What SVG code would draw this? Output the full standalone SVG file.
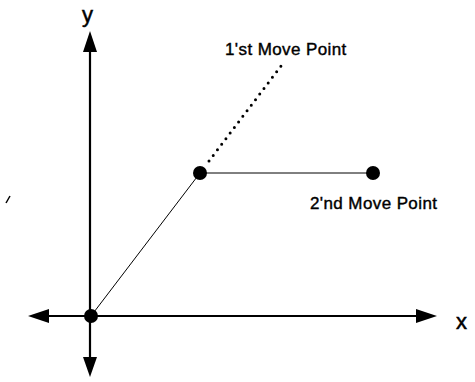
<svg xmlns="http://www.w3.org/2000/svg" width="475" height="382" viewBox="0 0 475 382">
<style>
.axis{stroke:#000;stroke-width:2.2;fill:none}
.thin{stroke:#000;stroke-width:1;fill:none}
.dot{stroke:#000;stroke-width:3;stroke-linecap:round;stroke-dasharray:0 7;fill:none}
.lbl{font-family:"Liberation Sans",Arial,sans-serif;font-size:17px;letter-spacing:0.4px;fill:#000;stroke:#000;stroke-width:0.4}
.ax{font-family:"Liberation Sans",Arial,sans-serif;font-size:22px;fill:#000;stroke:#000;stroke-width:0.5}
.pt{fill:#000}
.head{fill:#000}
</style>
<rect width="475" height="382" fill="#fff"/>
<g id="connectors">
<line class="axis" x1="90" y1="48" x2="90" y2="362"/>
<line class="axis" x1="44" y1="316" x2="422" y2="316"/>
<polygon class="head" points="90,31 83,52 97,52"/>
<polygon class="head" points="90,377 83,357 97,357"/>
<polygon class="head" points="28,316 49,309 49,323"/>
<polygon class="head" points="437,316 416,309 416,323"/>
<line class="thin" x1="91" y1="316" x2="200" y2="173"/>
<line class="thin" x1="200" y1="173" x2="373" y2="173" stroke-width="1.3"/>
<line class="dot" x1="209" y1="161" x2="281" y2="66"/>
</g>
<g id="origin"><circle class="pt" cx="91" cy="316" r="7"/></g>
<g id="point1"><circle class="pt" cx="200" cy="173" r="7"/></g>
<g id="point2"><circle class="pt" cx="373" cy="173" r="7"/></g>
<g id="label1"><text class="lbl" x="225" y="55">1'st Move Point</text></g>
<g id="label2"><text class="lbl" x="310" y="209">2'nd Move Point</text></g>
<g id="axis-labels">
<text class="ax" x="82" y="22">y</text>
<text class="ax" x="456" y="329">x</text>
</g>
<path d="M6,203 L10,196" stroke="#000" stroke-width="1.5"/>
</svg>
